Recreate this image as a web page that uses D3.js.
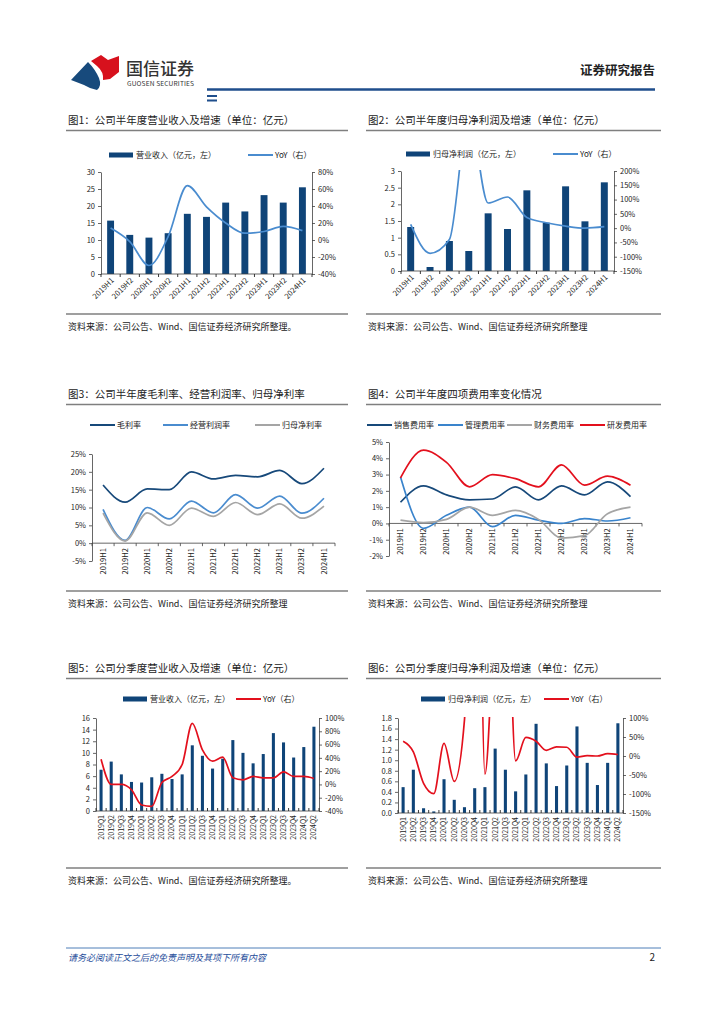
<!DOCTYPE html>
<html lang="zh-CN">
<head>
<meta charset="UTF-8">
<title>国信证券 - 公司财务图表</title>
<script src="https://d3js.org/d3.v7.min.js"></script>
<style>
  body { margin: 0; background: #fff; }
  svg text { font-family: "Noto Sans CJK SC", "Noto Sans", sans-serif; }
</style>
</head>
<body>
<svg id="page" width="724" height="1024"></svg>
<script>
// ---- 数据 ----
const halfYears = ['2019H1', '2019H2', '2020H1', '2020H2', '2021H1', '2021H2', '2022H1', '2022H2', '2023H1', '2023H2', '2024H1'];
const quarters = ['2019Q1', '2019Q2', '2019Q3', '2019Q4', '2020Q1', '2020Q2', '2020Q3', '2020Q4', '2021Q1', '2021Q2', '2021Q3',
  '2021Q4', '2022Q1', '2022Q2', '2022Q3', '2022Q4', '2023Q1', '2023Q2', '2023Q3', '2023Q4', '2024Q1', '2024Q2'];

// 图1 半年度营业收入（亿元）及同比（%）
const revenueHalf = [15.7, 11.5, 10.7, 12.0, 17.7, 16.8, 21.0, 18.4, 23.2, 21.0, 25.5];
const revenueHalfYoY = [14, -2, -30, 4, 64, 39, 20, 8, 10, 16, 11];
// 图2 半年度归母净利润（亿元）及同比（%）
const profitHalf = [1.32, 0.12, 0.9, 0.6, 1.73, 1.26, 2.42, 1.45, 2.54, 1.49, 2.66];
const profitHalfYoY = [13, -88, -40, 400, 88, 109, 37, 19, 7, 0, 5];
// 图3 毛利率 / 经营利润率 / 归母净利率（%）
const grossMargin = [16.3, 11.5, 15.2, 15.0, 20.0, 18.0, 19.0, 18.6, 20.4, 16.7, 21.0];
const opMargin = [9.5, 0.8, 10.0, 6.8, 11.8, 8.5, 13.6, 9.8, 13.2, 8.4, 12.6];
const netMargin = [8.4, 0.6, 8.5, 5.0, 9.8, 7.5, 11.4, 8.0, 11.0, 7.0, 10.4];
// 图4 四项费用率（%）
const salesRate = [1.3, 2.3, 1.75, 1.45, 1.5, 2.25, 1.45, 2.3, 1.75, 2.55, 1.65];
const adminRate = [2.85, -0.3, 0.5, 1.0, -0.2, 0.5, 0.2, 0.0, 0.3, 0.15, 0.35];
const financeRate = [0.2, 0.05, 0.25, 1.0, 0.5, 0.8, 0.25, -0.9, -0.75, 0.6, 1.0];
const rdRate = [2.8, 4.5, 3.75, 2.25, 3.0, 2.75, 2.25, 3.6, 2.35, 2.9, 2.35];
// 图5 分季度营业收入（亿元）及同比（%）
const revenueQ = [7.1, 8.5, 6.3, 5.0, 4.9, 5.8, 6.4, 5.5, 6.3, 11.3, 9.5, 7.3, 9.0, 12.2, 10.0, 8.2, 9.8, 13.4, 11.8, 9.2, 11.0, 14.5];
const revenueQYoY = [38, 0, 0, -8, -31, -33, 3, 12, 30, 92, 52, 35, 41, 10, 7, 12, 10, 10, 19, 12, 12, 9];
// 图6 分季度归母净利润（亿元）及同比（%）
const profitQ = [0.49, 0.82, 0.09, 0.03, 0.64, 0.25, 0.11, 0.47, 0.49, 1.22, 0.82, 0.41, 0.73, 1.69, 0.94, 0.51, 0.9, 1.64, 0.95, 0.53, 0.95, 1.7];
const profitQYoY = [39, 11, -72, -99, 33, -67, 95, 1400, -48, 400, 600, -13, 49, 39, 15, 24, 23, -3, 1, 0, 6, 4];

// 坐标刻度
const ticks1L = d3.range(0, 31, 5), ticks1R = d3.range(-40, 81, 20);
const ticks2L = d3.range(0, 3.01, 0.5), ticks2R = d3.range(-150, 201, 50);
const ticks3 = d3.range(-5, 26, 5);
const ticks4 = d3.range(-2, 6, 1);
const ticks5L = d3.range(0, 17, 2), ticks5R = d3.range(-40, 101, 20);
const ticks6L = d3.range(0, 1.81, 0.2), ticks6R = d3.range(-150, 101, 50);

const BAR = '#0f4478', DARK = '#17497a', MID = '#4a8ccf', GRAY = '#a5a5a5', RED = '#e3101d';
const AX = '#404040';
const pct = d => d + '%';

const svg = d3.select('#page');

// ---- 页眉 ----
svg.append('path').attr('d', 'M71,80 L88,62 Q95,69 99,78 Q102,86 97,90 L90,88 L84,85 Z').attr('fill', '#174a7c');
svg.append('path').attr('d', 'M91,61 L101,55 L108,60 L119,56 L119,72 L110,79 L103,80 Q104,72 97,66 Z').attr('fill', '#d7111d');
svg.append('text').attr('x', 126).attr('y', 75).attr('font-size', 17).attr('fill', '#333').attr('font-weight', 500).text('国信证券');
svg.append('text').attr('x', 127).attr('y', 86).attr('font-size', 6.6).attr('fill', '#333').attr('textLength', 67).text('GUOSEN SECURITIES');
svg.append('text').attr('x', 655).attr('y', 75).attr('font-size', 12.5).attr('font-weight', 700).attr('text-anchor', 'end').attr('fill', '#222').text('证券研究报告');
svg.append('line').attr('x1', 207).attr('x2', 655).attr('y1', 89.5).attr('y2', 89.5).attr('stroke', '#1f4e8c').attr('stroke-width', 2.5);
svg.append('rect').attr('x', 207).attr('y', 95).attr('width', 10).attr('height', 2).attr('fill', '#1f4e8c');
svg.append('rect').attr('x', 207).attr('y', 99.5).attr('width', 10).attr('height', 2).attr('fill', '#1f4e8c');

// ---- 标题、分隔线、来源 ----
const titles = [
  ['图1：公司半年度营业收入及增速（单位：亿元）', '图2：公司半年度归母净利润及增速（单位：亿元）'],
  ['图3：公司半年度毛利率、经营利润率、归母净利率', '图4：公司半年度四项费用率变化情况'],
  ['图5：公司分季度营业收入及增速（单位：亿元）', '图6：公司分季度归母净利润及增速（单位：亿元）']
];
const sources = [
  ['资料来源：公司公告、Wind、国信证券经济研究所整理。', '资料来源：公司公告、Wind、国信证券经济研究所整理'],
  ['资料来源：公司公告、Wind、国信证券经济研究所整理', '资料来源：公司公告、Wind、国信证券经济研究所整理'],
  ['资料来源：公司公告、Wind、国信证券经济研究所整理。', '资料来源：公司公告、Wind、国信证券经济研究所整理']
];
const rowTop = [124, 398, 672];
const rowBottom = [314, 591, 868];
const cols = [[66, 348], [366, 661]];
rowTop.forEach((y, r) => {
  cols.forEach((c, k) => {
    svg.append('text').attr('x', c[0] + 2).attr('y', y).attr('font-size', 10.5).attr('fill', '#222').text(titles[r][k]);
    svg.append('line').attr('x1', c[0]).attr('x2', c[1]).attr('y1', y + 6.5).attr('y2', y + 6.5).attr('stroke', '#7f7f7f').attr('stroke-width', 1.5);
    svg.append('line').attr('x1', c[0]).attr('x2', c[1]).attr('y1', rowBottom[r]).attr('y2', rowBottom[r]).attr('stroke', '#7f7f7f').attr('stroke-width', 1.5);
    svg.append('text').attr('x', c[0] + 2).attr('y', rowBottom[r] + 16).attr('font-size', 9).attr('fill', '#222').text(sources[r][k]);
  });
});

// ---- 页脚 ----
svg.append('line').attr('x1', 66).attr('x2', 661).attr('y1', 948).attr('y2', 948).attr('stroke', '#4f7fb8').attr('stroke-width', 1);
svg.append('text').attr('x', 68).attr('y', 961).attr('font-size', 9).attr('font-style', 'italic').attr('fill', '#1f4e9b').text('请务必阅读正文之后的免责声明及其项下所有内容');
svg.append('text').attr('x', 655).attr('y', 961).attr('font-size', 10).attr('text-anchor', 'end').attr('fill', '#222').text('2');

// ---- 通用 ----
function styleAxis(g, fs) {
  g.attr('font-family', '"Noto Sans CJK SC", "Noto Sans", sans-serif').attr('font-size', fs || 7.5);
  g.selectAll('path.domain').attr('stroke', AX).attr('stroke-width', 0.8);
  g.selectAll('.tick line').attr('stroke', AX).attr('stroke-width', 0.8);
  g.selectAll('.tick text').attr('fill', '#222');
}

function rotateLabels(g, angle, dx, dy) {
  g.selectAll('.tick text')
    .attr('x', 0).attr('y', 0).attr('dy', '0.35em')
    .attr('text-anchor', 'end')
    .attr('transform', `translate(${dx},${dy}) rotate(${angle})`);
}

function legendLine(x, y, color, label) {
  svg.append('line').attr('x1', x).attr('x2', x + 25).attr('y1', y).attr('y2', y).attr('stroke', color).attr('stroke-width', 2);
  svg.append('text').attr('x', x + 27).attr('y', y + 3).attr('font-size', 8).attr('fill', '#222').text(label);
}

function legendBar(x, y, label) {
  svg.append('rect').attr('x', x).attr('y', y - 2.5).attr('width', 24).attr('height', 5).attr('fill', BAR);
  svg.append('text').attr('x', x + 27).attr('y', y + 3).attr('font-size', 8).attr('fill', '#222').text(label);
}

// 柱状 + 折线（双轴）
function barLineChart(o) {
  const x = d3.scaleBand().domain(o.cats).range([o.left, o.right]).paddingInner(o.pad).paddingOuter(o.pad / 2);
  const yL = d3.scaleLinear().domain(d3.extent(o.leftTicks)).range([o.bottom, o.top]);
  const yR = d3.scaleLinear().domain(d3.extent(o.rightTicks)).range([o.bottom, o.top]);

  svg.append('g').selectAll('rect').data(o.bars).join('rect')
    .attr('x', (d, i) => x(o.cats[i]))
    .attr('y', d => yL(d))
    .attr('width', x.bandwidth())
    .attr('height', d => yL(0) - yL(d))
    .attr('fill', BAR);

  const clipId = 'clip-' + o.id;
  svg.append('clipPath').attr('id', clipId).append('rect')
    .attr('x', o.left).attr('y', o.top - 1).attr('width', o.right - o.left).attr('height', o.bottom - o.top + 2);

  const line = d3.line()
    .x((d, i) => x(o.cats[i]) + x.bandwidth() / 2)
    .y(d => yR(d))
    .curve(d3.curveMonotoneX);
  svg.append('path').datum(o.yoy)
    .attr('d', line).attr('fill', 'none')
    .attr('stroke', o.lineColor).attr('stroke-width', 1.7)
    .attr('clip-path', `url(#${clipId})`);

  const gl = svg.append('g').attr('transform', `translate(${o.left},0)`)
    .call(d3.axisLeft(yL).tickValues(o.leftTicks).tickFormat(o.leftFmt).tickSize(3).tickSizeOuter(0).tickPadding(3));
  styleAxis(gl);
  const gr = svg.append('g').attr('transform', `translate(${o.right},0)`)
    .call(d3.axisRight(yR).tickValues(o.rightTicks).tickFormat(pct).tickSize(3).tickSizeOuter(0).tickPadding(3));
  styleAxis(gr);

  // x 轴线与类别边界刻度
  svg.append('line').attr('x1', o.left).attr('x2', o.right).attr('y1', yL(0)).attr('y2', yL(0)).attr('stroke', AX).attr('stroke-width', 0.8);
  svg.append('g').selectAll('line').data(d3.range(o.cats.length + 1)).join('line')
    .attr('x1', i => o.left + i * x.step()).attr('x2', i => o.left + i * x.step())
    .attr('y1', yL(0)).attr('y2', yL(0) + o.xTick)
    .attr('stroke', '#222').attr('stroke-width', 0.9);

  const gx = svg.append('g').attr('transform', `translate(0,${yL(0)})`)
    .call(d3.axisBottom(x).tickSize(0));
  gx.select('.domain').remove();
  styleAxis(gx, o.xFont);
  rotateLabels(gx, o.angle, o.labelDx, o.labelDy);

  legendBar(o.legendBarX, o.legendY, o.barLabel);
  legendLine(o.legendLineX, o.legendY, o.lineColor, 'YoY（右）');
}

// 多折线
function multiLineChart(o) {
  const x = d3.scaleBand().domain(o.cats).range([o.left, o.right]);
  const y = d3.scaleLinear().domain(d3.extent(o.ticks)).range([o.bottom, o.top]);
  const line = d3.line().x((d, i) => x(o.cats[i]) + x.bandwidth() / 2).y(d => y(d)).curve(d3.curveMonotoneX);

  const gy = svg.append('g').attr('transform', `translate(${o.left},0)`)
    .call(d3.axisLeft(y).tickValues(o.ticks).tickFormat(pct).tickSize(3).tickSizeOuter(0).tickPadding(3));
  styleAxis(gy);

  svg.append('line').attr('x1', o.left).attr('x2', o.right).attr('y1', y(0)).attr('y2', y(0)).attr('stroke', AX).attr('stroke-width', 0.8);
  svg.append('g').selectAll('line').data(d3.range(o.cats.length + 1)).join('line')
    .attr('x1', i => o.left + i * x.step()).attr('x2', i => o.left + i * x.step())
    .attr('y1', y(0)).attr('y2', y(0) + 3)
    .attr('stroke', AX).attr('stroke-width', 0.8);

  const gx = svg.append('g').attr('transform', `translate(0,${y(0)})`)
    .call(d3.axisBottom(x).tickSize(0));
  gx.select('.domain').remove();
  styleAxis(gx);
  rotateLabels(gx, -90, 0, 5);

  o.series.forEach(s => {
    svg.append('path').datum(s.values).attr('d', line).attr('fill', 'none')
      .attr('stroke', s.color).attr('stroke-width', 1.7);
  });
  o.series.forEach(s => legendLine(s.legendX, o.legendY, s.color, s.name));
}

// ---- 图1 ----
barLineChart({
  id: 'c1', cats: halfYears, bars: revenueHalf, yoy: revenueHalfYoY,
  left: 101, right: 312, top: 172, bottom: 274, pad: 0.64,
  leftTicks: ticks1L, rightTicks: ticks1R, leftFmt: d3.format('d'),
  lineColor: MID, angle: -45, labelDx: 2, labelDy: 5, xTick: 3, xFont: 7.5,
  legendY: 155, legendBarX: 109, legendLineX: 248, barLabel: '营业收入（亿元，左）'
});

// ---- 图2 ----
barLineChart({
  id: 'c2', cats: halfYears, bars: profitHalf, yoy: profitHalfYoY,
  left: 401, right: 614, top: 171, bottom: 271, pad: 0.64,
  leftTicks: ticks2L, rightTicks: ticks2R, leftFmt: d => d3.format('~g')(d),
  lineColor: MID, angle: -45, labelDx: 2, labelDy: 5, xTick: 3, xFont: 7.5,
  legendY: 154, legendBarX: 406, legendLineX: 553, barLabel: '归母净利润（亿元，左）'
});

// ---- 图3 ----
multiLineChart({
  cats: halfYears, ticks: ticks3,
  left: 92, right: 335, top: 454, bottom: 561, legendY: 425,
  series: [
    { name: '毛利率', values: grossMargin, color: DARK, legendX: 90 },
    { name: '经营利润率', values: opMargin, color: MID, legendX: 163 },
    { name: '归母净利率', values: netMargin, color: GRAY, legendX: 255 }
  ]
});

// ---- 图4 ----
multiLineChart({
  cats: halfYears, ticks: ticks4,
  left: 389, right: 642, top: 442, bottom: 556, legendY: 425,
  series: [
    { name: '销售费用率', values: salesRate, color: DARK, legendX: 367 },
    { name: '管理费用率', values: adminRate, color: '#3a84cc', legendX: 438 },
    { name: '财务费用率', values: financeRate, color: GRAY, legendX: 507 },
    { name: '研发费用率', values: rdRate, color: RED, legendX: 580 }
  ]
});

// ---- 图5 ----
barLineChart({
  id: 'c5', cats: quarters, bars: revenueQ, yoy: revenueQYoY,
  left: 96, right: 319, top: 718, bottom: 811, pad: 0.7,
  leftTicks: ticks5L, rightTicks: ticks5R, leftFmt: d3.format('d'),
  lineColor: RED, angle: -90, labelDx: 0, labelDy: 4, xTick: -3, xFont: 7,
  legendY: 699, legendBarX: 123, legendLineX: 236, barLabel: '营业收入（亿元，左）'
});

// ---- 图6 ----
barLineChart({
  id: 'c6', cats: quarters, bars: profitQ, yoy: profitQYoY,
  left: 398, right: 623, top: 718, bottom: 813, pad: 0.7,
  leftTicks: ticks6L, rightTicks: ticks6R, leftFmt: d3.format('.1f'),
  lineColor: RED, angle: -90, labelDx: 0, labelDy: 4, xTick: -3, xFont: 7,
  legendY: 699, legendBarX: 421, legendLineX: 544, barLabel: '归母净利润（亿元，左）'
});
</script>
</body>
</html>
